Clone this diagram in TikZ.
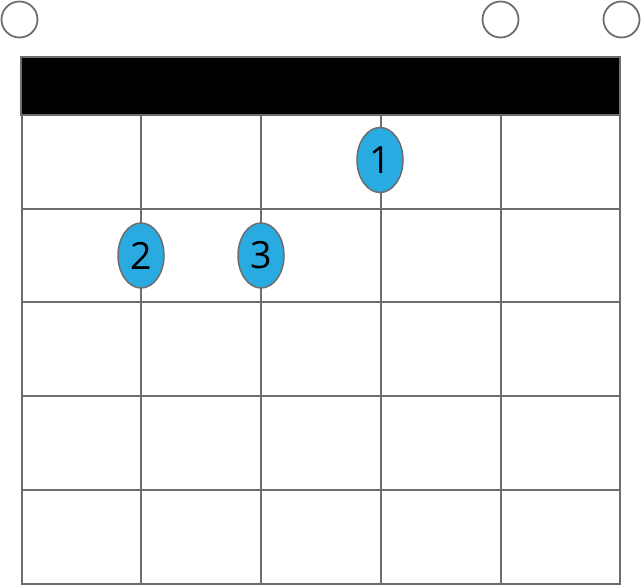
\documentclass[tikz,border=0pt]{standalone}
\usepackage{fontspec}
\setmainfont{Open Sans}
\usetikzlibrary{shapes.geometric}
\definecolor{gridgray}{HTML}{6D6D6D}
\definecolor{dotblue}{HTML}{29ABE2}
\begin{document}
\begin{tikzpicture}[x=1pt,y=-1pt,
  gridline/.style={draw=gridgray,line width=2pt},
  openstr/.style={circle,draw=gridgray,line width=1.8pt,minimum size=36pt,inner sep=0pt},
  fingerdot/.style={ellipse,draw=gridgray,line width=1.5pt,fill=dotblue,minimum width=46pt,minimum height=65pt,inner sep=0pt,font=\fontsize{37.5}{37.5}\selectfont}]
\useasboundingbox (0,0) rectangle (642,586);
% strings and frets
\foreach \x in {22,141,261,381,501,620} \draw[gridline] (\x,115) -- (\x,585);
\foreach \y in {208.5,302,396,490,584} \draw[gridline] (21,\y) -- (621,\y);
% nut
\draw[gridline,fill=black] (21,57) rectangle (620,115);
% open strings
\node[openstr] (o1) at (19.5,19.5) {};
\node[openstr] (o5) at (500.5,19.5) {};
\node[openstr] (o6) at (621.5,19.5) {};
% finger dots
\node[fingerdot] (f1) at (380,160) {1};
\node[fingerdot] (f2) at (141,255.5) {2};
\node[fingerdot] (f3) at (261,255.5) {3};
\end{tikzpicture}
\end{document}
